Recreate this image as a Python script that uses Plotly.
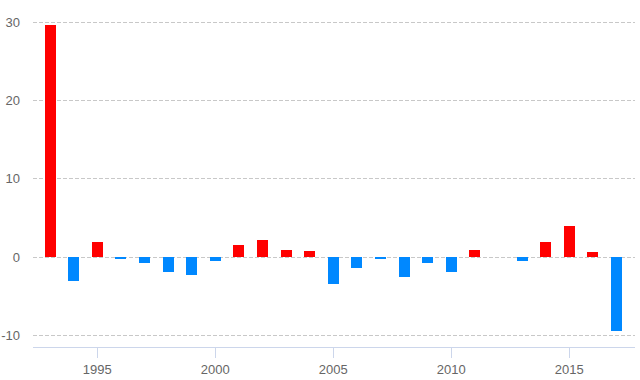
import plotly.graph_objects as go

years = list(range(1993, 2018))
values = [29.6, -3.1, 1.9, -0.2, -0.8, -1.9, -2.3, -0.5, 1.6, 2.2, 0.9, 0.8,
          -3.5, -1.4, -0.2, -2.6, -0.8, -1.9, 0.9, 0.0, -0.5, 1.9, 4.0, 0.7, -9.5]
y_ticks = [-10, 0, 10, 20, 30]
x_ticks = [1995, 2000, 2005, 2010, 2015]

POS = "#ff0000"
NEG = "#0088ff"
colors = [POS if v >= 0 else NEG for v in values]

fig = go.Figure(go.Bar(
    x=years, y=values, width=0.47,
    marker=dict(color=colors, line=dict(width=0)),
    hoverinfo="x+y",
))

font = dict(family="Liberation Sans, Arial, sans-serif", size=13, color="#666666")

fig.update_layout(
    width=640, height=380,
    margin=dict(l=33, r=5, t=10, b=33, autoexpand=False),
    paper_bgcolor="white", plot_bgcolor="white",
    showlegend=False,
    font=font,
    bargap=0,
)
fig.update_xaxes(
    range=[1992.275, 2017.785],
    tickvals=x_ticks, ticktext=[str(t) for t in x_ticks],
    showgrid=False, zeroline=False,
    showline=True, linecolor="#ccd6eb", linewidth=1,
    ticks="outside", ticklen=10, tickcolor="#ccd6eb", tickwidth=1,
    tickfont=font, automargin=False,
)
fig.update_yaxes(
    range=[-11.5, 31.57],
    tickvals=y_ticks, ticktext=[str(t) for t in y_ticks],
    showgrid=True, gridcolor="#c8c8c8", gridwidth=1, griddash="4px,2px",
    zeroline=False, showline=False,
    ticks="", ticklabelstandoff=12,
    tickfont=font, automargin=False,
)

fig.write_html("out.html")
